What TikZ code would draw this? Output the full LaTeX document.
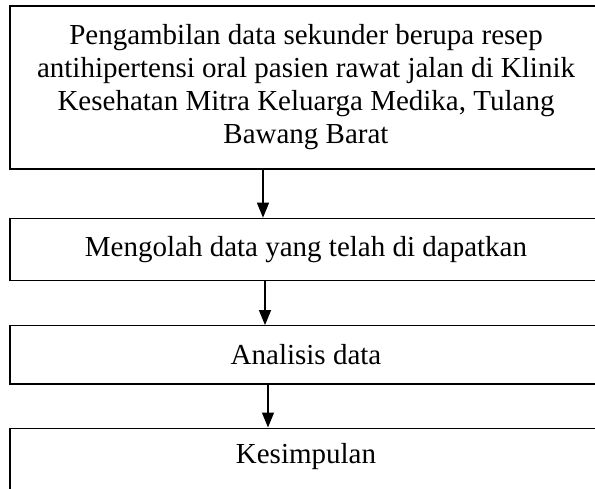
\documentclass[tikz,border=0pt]{standalone}
\usepackage{fontspec}
\setmainfont{Liberation Serif}
\usetikzlibrary{positioning,arrows.meta}

\tikzset{
  langkah/.style={draw, rectangle, line width=1.4pt, minimum width=592pt, align=center, inner sep=0pt},
  panah/.style={-{Triangle[width=12pt,length=15pt]}, line width=1.3pt}
}

\begin{document}
\begin{tikzpicture}[x=1pt, y=-1pt, every node/.style={font=\fontsize{29}{33}\selectfont}]
\useasboundingbox (0,0) rectangle (595,489);
\node[langkah, minimum height=163pt] (ambil) at (306,87.5) {Pengambilan data sekunder berupa resep\\antihipertensi oral pasien rawat jalan di Klinik\\Kesehatan Mitra Keluarga Medika, Tulang\\Bawang Barat};
\node[langkah, minimum height=62pt] (olah) [below=48pt of ambil] {Mengolah data yang telah di dapatkan};
\node[langkah, minimum height=58pt] (analisis) [below=44pt of olah] {Analisis data};
\node[langkah, minimum height=64pt, text depth=14pt] (simpul) [below=43pt of analisis] {Kesimpulan};
\draw[panah] ([xshift=-43pt]ambil.south) -- ([xshift=-43pt]olah.north);
\draw[panah] ([xshift=-41pt]olah.south) -- ([xshift=-41pt]analisis.north);
\draw[panah] ([xshift=-38pt]analisis.south) -- ([xshift=-38pt]simpul.north);
\end{tikzpicture}
\end{document}
